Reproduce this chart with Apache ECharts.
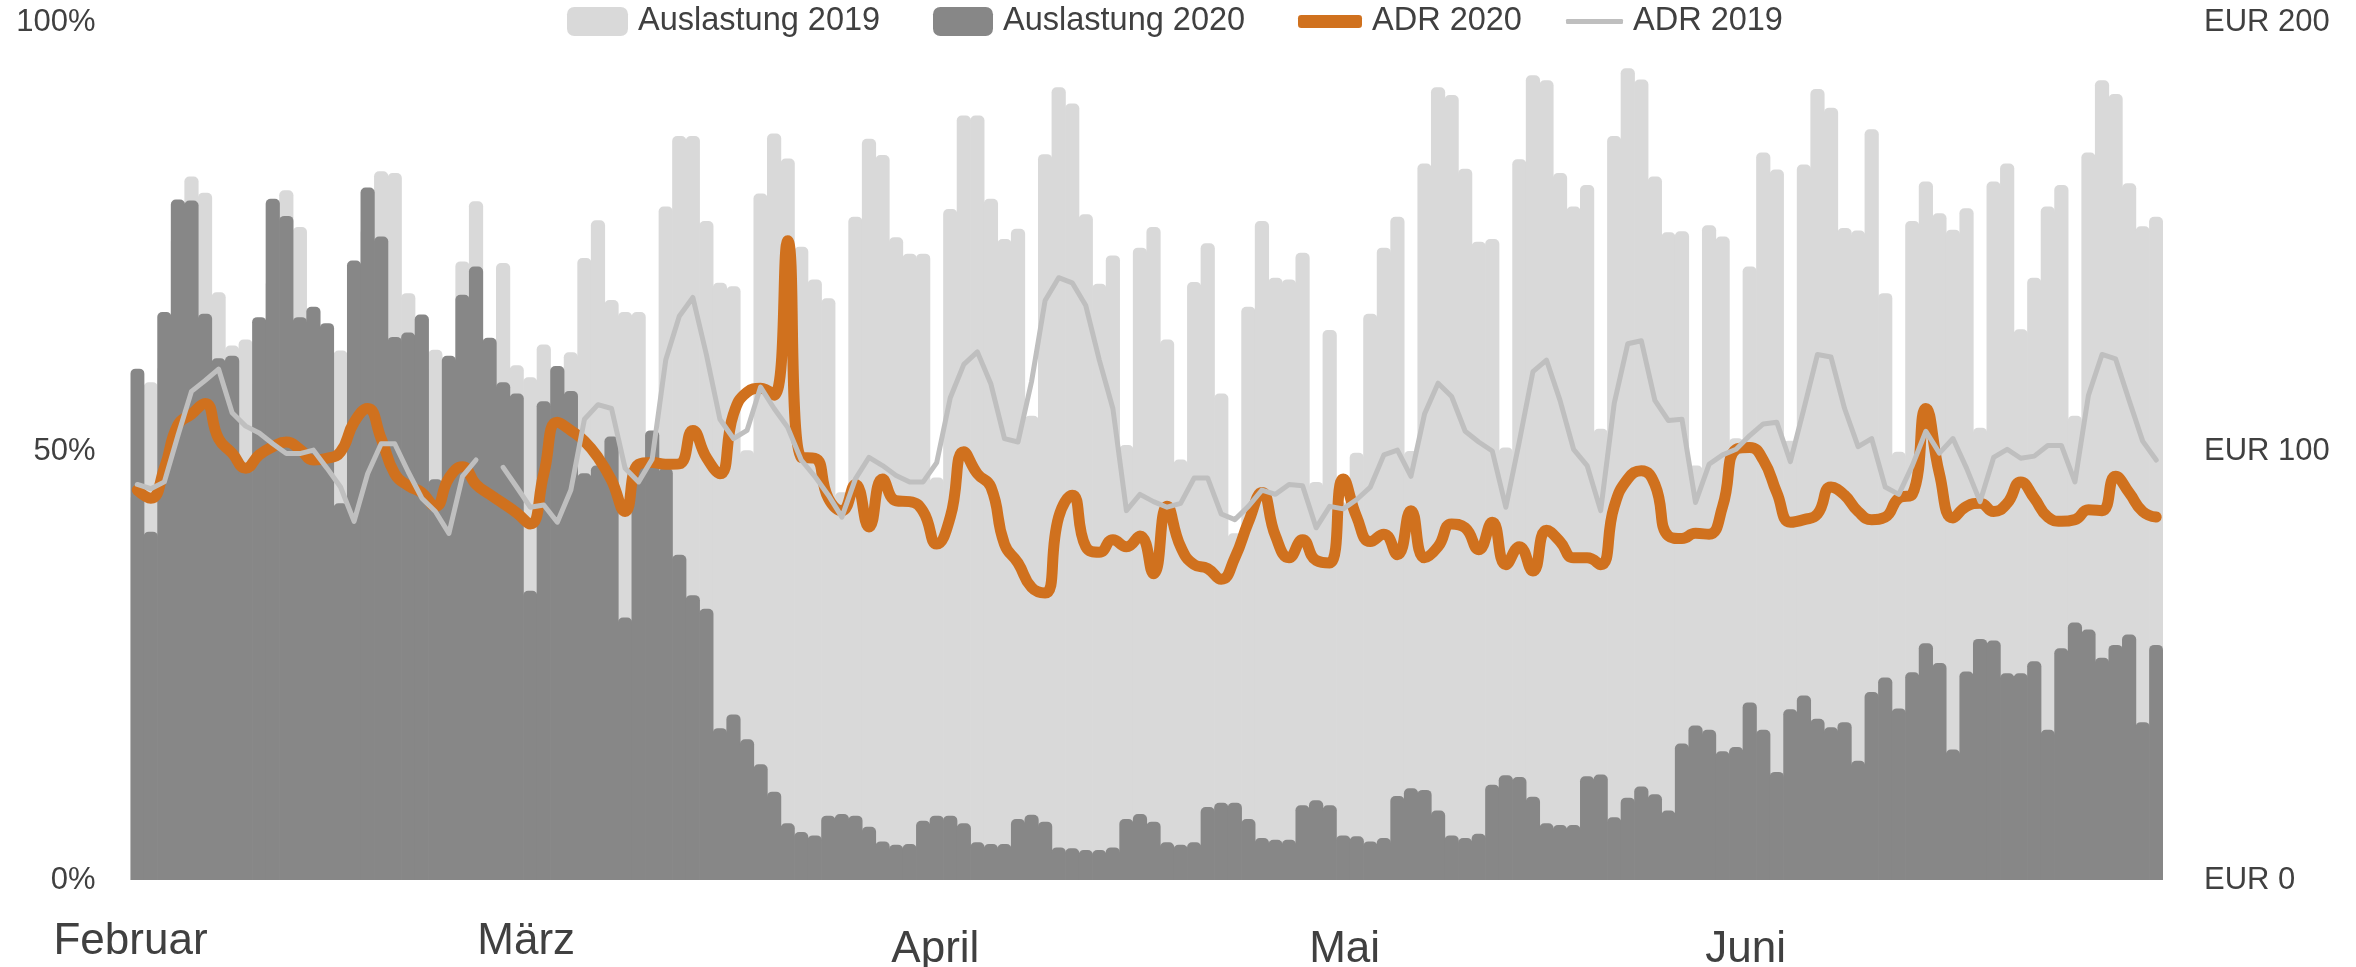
<!DOCTYPE html>
<html>
<head>
<meta charset="utf-8">
<script src="https://cdn.jsdelivr.net/npm/echarts@6/dist/echarts.min.js"></script>
<style>
html,body{margin:0;padding:0;background:#fff;}
#chart{width:2356px;height:967px;}
</style>
</head>
<body>
<div id="chart"></div>
<script>
// Auslastung 2019 (%), one value per day starting 1 Feb
const occ2019 = [45,58.0,60,75,82.0,80.1,68.5,62.3,63.0,58,70,80.4,76.1,60,60,61.7,62,76,82.6,82.4,68.4,60,61.8,55,72.1,
79.1,58,71.9,60.0,58.6,62.4,55,61.5,72.5,76.9,67.6,66.2,66.2,48,78.5,86.7,86.7,76.8,69.6,69.2,50.1,80.0,87.0,84.1,73.8,
70.0,67.8,45.2,77.3,86.4,84.5,74.9,73.0,73.0,46.9,78.2,89.1,89.1,79.4,74.7,75.9,54.1,84.6,92.4,90.5,77.6,69.5,72.8,50.7,73.7,
76.1,63.0,49.0,69.7,74.2,56.7,40.4,66.8,76.8,70.2,70.0,73.1,46.4,64.1,44,49.8,66.0,73.7,77.3,50.0,83.5,92.4,91.5,82.9,74.4,
74.7,50.4,84.0,93.8,93.2,82.4,78.5,81.0,52.6,86.7,94.6,93.3,82.0,75.5,75.6,48.3,76.3,75.0,51.5,71.5,84.8,82.8,51.2,83.4,92.2,
90.0,76.0,75.7,87.5,68.4,49.9,76.8,81.4,77.7,75.8,78.3,52.7,81.4,83.5,64.2,70.2,78.5,81.0,54.1,84.8,93.2,91.6,81.2,76.2,77.3];

// Auslastung 2020 (%)
const occ2020 = [59.6,40.6,66.2,79.3,79.2,66.0,60.8,61.1,48.0,65.6,79.4,77.4,65.6,66.8,64.9,43.9,72.2,80.7,75.0,63.3,63.8,65.9,46.7,61.1,68.2,
71.5,63.2,58.0,56.7,33.7,55.8,59.9,57.0,47.4,48.3,51.7,30.6,48.6,52.4,48.0,37.9,33.2,31.6,17.7,19.3,16.4,13.5,10.3,6.6,5.6,
5.2,7.5,7.7,7.5,6.2,4.5,4.1,4.2,6.9,7.5,7.5,6.6,4.4,4.2,4.2,7.1,7.6,6.8,3.8,3.7,3.5,3.5,3.8,7.1,7.7,
6.8,4.4,4.1,4.4,8.5,9.0,9.0,7.1,4.9,4.7,4.7,8.7,9.3,8.7,5.2,5.1,4.5,4.9,9.8,10.7,10.5,8.1,5.2,4.9,5.4,
11.1,12.2,12.0,9.7,6.6,6.4,6.4,12.1,12.3,7.3,9.6,10.9,10.0,8.1,15.9,18.0,17.5,15.0,15.5,20.7,17.5,12.6,19.9,21.5,18.8,
17.8,18.4,13.9,21.9,23.6,20.0,24.2,27.6,25.3,15.2,24.3,28.1,27.9,24.1,24.1,25.5,17.5,27.0,30.0,29.2,25.9,27.4,28.6,18.4,27.4];

// ADR 2020 (EUR)
const adr2020 = [90.9,89.0,96.0,106.1,108.6,111.1,102.9,99.5,96.0,99.1,101.0,102.1,100.4,97.9,98.3,99.8,106.7,109.9,102.9,94.7,91.9,90.3,87.1,93.7,96.3,
92.2,89.9,87.8,85.6,83.0,94.7,106.7,104.8,102.3,98.5,93.2,85.9,96.9,97.3,96.9,97.0,104.8,98.5,94.7,108.6,113.7,114.6,113.0,149.0,98.5,
98.3,89.0,86.1,92.2,82.3,93.5,88.4,88.2,85.9,78.3,84.6,99.8,94.7,91.6,78.3,73.9,68.2,66.9,84.6,89.7,77.7,76.4,79.3,77.7,80.2,
71.4,87.1,77.7,73.5,72.6,70.1,75.1,83.4,90.3,80.2,75.1,79.3,74.5,73.9,93.5,84.6,78.9,80.6,75.8,86.1,75.1,77.7,83.0,82.1,77.0,
83.4,73.5,77.7,72.0,81.5,78.9,75.1,75.1,73.5,87.1,93.5,95.4,92.2,80.2,79.6,80.8,80.6,87.1,100.4,100.8,97.9,90.3,83.4,84.0,85.3,
91.6,89.7,85.9,84.0,84.6,89.0,89.9,109.9,94.7,84.4,87.1,87.8,85.9,87.8,92.8,89.0,84.6,83.6,84.0,86.3,86.1,94.1,90.3,85.9,84.6];

// ADR 2019 (EUR), null = no value
const adr2019 = [92.2,91.2,92.8,103.6,113.9,116.4,119.1,108.9,105.8,104.2,101.7,99.4,99.4,100.2,96.0,91.6,83.6,94.7,101.7,101.7,95.1,89.0,85.9,80.8,94.1,
97.9,null,96.2,91.6,86.9,87.4,83.4,90.9,107.4,110.8,109.9,96.0,92.8,98.1,121.2,131.4,135.8,122.5,107.4,102.9,104.8,114.9,109.9,105.5,97.9,
94.1,89.7,84.6,93.5,98.5,96.6,94.3,92.8,92.8,97.3,112.4,120.2,123.1,115.6,102.9,102.1,116.2,135.1,140.4,139.2,133.9,121.2,109.9,86.1,89.9,
88.2,86.9,87.8,93.7,93.7,85.3,84.0,87.1,90.9,89.9,92.2,91.9,82.1,87.1,86.5,88.7,91.6,99.1,100.2,94.1,108.6,115.8,112.7,104.6,102.1,
100.0,86.9,102.3,118.5,121.2,111.8,100.4,96.6,86.1,111.1,125.0,125.7,111.8,107.1,107.4,88.0,96.9,99.1,100.4,103.6,106.3,106.7,97.5,109.9,122.5,
121.9,109.9,101.0,102.9,91.6,89.9,96.6,104.6,99.5,102.9,96.0,88.2,98.5,100.4,98.3,98.8,101.3,101.3,92.8,113.0,122.5,121.5,111.8,102.3,97.9];

// day categories
const days = [];
{
  const d0 = new Date(2020, 1, 1);
  for (let i = 0; i < occ2019.length; i++) {
    const d = new Date(d0.getTime() + i * 86400000);
    days.push(d.getDate() + '.' + (d.getMonth() + 1) + '.');
  }
}

// month tick labels and their positions (in days from 1 Feb)
const monthNames = ['Februar', 'März', 'April', 'Mai', 'Juni'];
const monthPos = [0, 29.2, 59.4, 89.6, 119.2];

const leftTicks = [0, 50, 100];
const rightTicks = [0, 100, 200];

const FONT = "'Liberation Sans', Arial, sans-serif";
const TXT = '#404040';

function monthAxis(idxs, margin) {
  const vals = idxs.map(i => monthPos[i]);
  return {
    type: 'value', min: 0, max: days.length, position: 'bottom',
    axisLine: {show: false}, axisTick: {show: false}, splitLine: {show: false},
    axisLabel: {
      customValues: vals,
      fontFamily: FONT, fontSize: 44, color: TXT, margin: margin,
      formatter: function (v) {
        const i = monthPos.findIndex(p => Math.abs(p - v) < 0.01);
        return i >= 0 ? monthNames[i] : '';
      }
    }
  };
}

function legendItem(name, left, w, h, icon) {
  return {
    left: left, top: 5, padding: 0,
    itemWidth: w, itemHeight: h,
    textStyle: {fontFamily: FONT, fontSize: 32.5, color: TXT, lineHeight: 33, padding: [0, 0, 0, 5]},
    data: [{name: name, icon: icon}]
  };
}

const chart = echarts.init(document.getElementById('chart'), null, {renderer: 'canvas'});
chart.setOption({
  animation: false,
  backgroundColor: '#ffffff',
  textStyle: {fontFamily: FONT},
  legend: [
    legendItem('Auslastung 2019', 567, 61, 29, 'roundRect'),
    legendItem('Auslastung 2020', 933, 60, 29, 'roundRect'),
    legendItem('ADR 2020', 1298, 64, 13, 'roundRect'),
    legendItem('ADR 2019', 1566, 57, 5, 'roundRect')
  ],
  grid: {left: 130.5, right: 193, top: 22, bottom: 87, outerBoundsMode: 'none'},
  xAxis: [
    {
      type: 'category', data: days, boundaryGap: true,
      axisLine: {show: false}, axisTick: {show: false}, axisLabel: {show: false}, splitLine: {show: false}
    },
    monthAxis([0, 1], 40),
    monthAxis([2, 3, 4], 48)
  ],
  yAxis: [
    {
      type: 'value', min: leftTicks[0], max: leftTicks[2], interval: 50,
      axisLine: {show: false}, axisTick: {show: false}, splitLine: {show: false},
      axisLabel: {formatter: '{value}%', fontFamily: FONT, fontSize: 31, color: TXT, margin: 35}
    },
    {
      type: 'value', min: rightTicks[0], max: rightTicks[2], interval: 100,
      axisLine: {show: false}, axisTick: {show: false}, splitLine: {show: false},
      axisLabel: {formatter: 'EUR {value}', fontFamily: FONT, fontSize: 31, color: TXT, margin: 41}
    }
  ],
  series: [
    {
      name: 'Auslastung 2019', type: 'bar', data: occ2019,
      barGap: '-100%', barWidth: 14.2,
      itemStyle: {color: '#d9d9d9', borderRadius: [5, 5, 0, 0]}
    },
    {
      name: 'Auslastung 2020', type: 'bar', data: occ2020,
      barGap: '-100%', barWidth: 14.2,
      itemStyle: {color: '#878787', borderRadius: [5, 5, 0, 0]}
    },
    {
      name: 'ADR 2020', type: 'line', yAxisIndex: 1, data: adr2020,
      smooth: 0.5, symbol: 'none', showSymbol: false,
      lineStyle: {color: '#d0711e', width: 11, cap: 'round', join: 'round'},
      itemStyle: {color: '#d0711e'}
    },
    {
      name: 'ADR 2019', type: 'line', yAxisIndex: 1, data: adr2019,
      smooth: false, symbol: 'none', showSymbol: false, connectNulls: false,
      lineStyle: {color: '#bfbfbf', width: 5, cap: 'round', join: 'round'},
      itemStyle: {color: '#bfbfbf'}
    }
  ]
});
</script>
</body>
</html>
